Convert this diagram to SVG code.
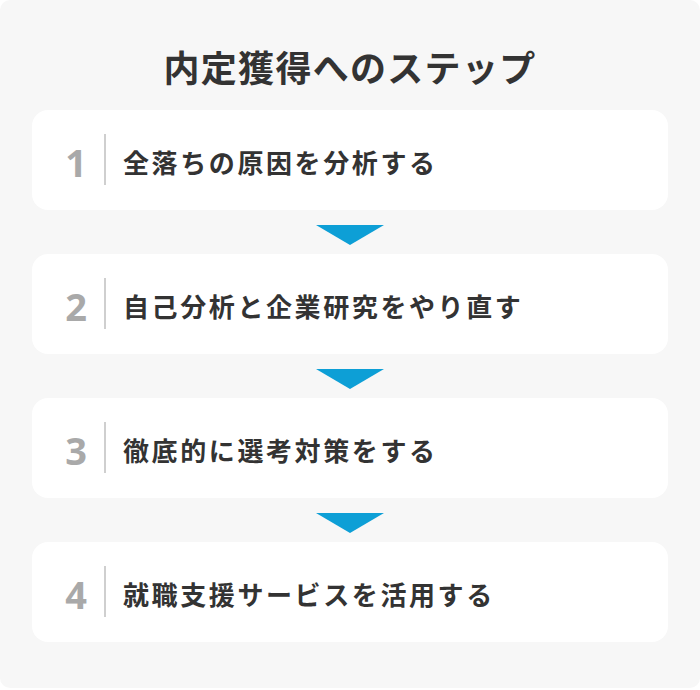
<svg xmlns="http://www.w3.org/2000/svg" width="700" height="690" viewBox="0 0 700 690">
<style>
.bg{fill:#f7f7f7}
.card{fill:#ffffff}
.num{font-family:"Noto Sans","Liberation Sans",sans-serif;font-weight:700;font-size:38px;fill:#a9a9a9;text-anchor:middle}
.div{stroke:#cfcfcf;stroke-width:2}
.lbl{font-family:"Noto Sans CJK JP","Noto Sans",sans-serif;font-weight:700;font-size:26px;letter-spacing:2.6px;fill:#333333;dominant-baseline:central}
.title{font-family:"Noto Sans CJK JP","Noto Sans",sans-serif;font-weight:700;font-size:36px;letter-spacing:1.3px;fill:#333333;text-anchor:middle;dominant-baseline:central}
.arrow{fill:#0d9fd6}
</style>
<rect width="700" height="690" fill="#ffffff"/>
<rect class="bg" x="0" y="0" width="700" height="688" rx="10"/>
<text class="title" x="350" y="66">内定獲得へのステップ</text>
<g id="connectors">
<polygon class="arrow" points="316,225 384,225 350,245"/>
<polygon class="arrow" points="316,369 384,369 350,389"/>
<polygon class="arrow" points="316,513 384,513 350,533"/>
</g>
<g id="step1">
<rect class="card" x="32" y="110" width="636" height="100" rx="16"/>
<text class="num" x="76" y="177">1</text>
<line class="div" x1="105" y1="134" x2="105" y2="185"/>
<text class="lbl" x="123" y="161">全落ちの原因を分析する</text>
</g>
<g id="step2">
<rect class="card" x="32" y="254" width="636" height="100" rx="16"/>
<text class="num" x="76" y="321">2</text>
<line class="div" x1="105" y1="278" x2="105" y2="329"/>
<text class="lbl" x="123" y="305">自己分析と企業研究をやり直す</text>
</g>
<g id="step3">
<rect class="card" x="32" y="398" width="636" height="100" rx="16"/>
<text class="num" x="76" y="465">3</text>
<line class="div" x1="105" y1="422" x2="105" y2="473"/>
<text class="lbl" x="123" y="449">徹底的に選考対策をする</text>
</g>
<g id="step4">
<rect class="card" x="32" y="542" width="636" height="100" rx="16"/>
<text class="num" x="76" y="609">4</text>
<line class="div" x1="105" y1="566" x2="105" y2="617"/>
<text class="lbl" x="123" y="593">就職支援サービスを活用する</text>
</g>
</svg>
